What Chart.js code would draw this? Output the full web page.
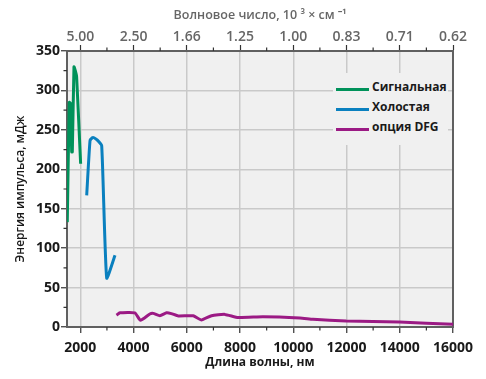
<!DOCTYPE html>
<html>
<head>
<meta charset="utf-8">
<script src="https://cdn.jsdelivr.net/npm/chart.js@4"></script>
<style>
  body { margin: 0; background: #fff; }
  #wrap { position: relative; width: 486px; height: 379px; }
  #legend {
    position: absolute; left: 333px; top: 73px; width: 115px; height: 72px;
    background: #f0f0f0; padding-top: 3px; box-sizing: border-box;
    font: bold 12px "Open Sans", sans-serif; color: #1a1a1a;
  }
  .row { display: flex; align-items: center; height: 20px; }
  .swatch { width: 33px; height: 3px; margin: 0 3px 0 3px; position: relative; top: 3px; }
</style>
</head>
<body>
<div id="wrap">
  <canvas id="chart" width="486" height="379"></canvas>
  <div id="legend"></div>
</div>
<script>
// Signal, idler and DFG pulse energy vs wavelength
const signalWl = [1510, 1586, 1637, 1676, 1700, 1762, 1812, 1862, 2012];
const signalEnergy = [133, 285, 283, 222, 222, 330, 325, 317, 207];

const idlerWl = [2240, 2364, 2450, 2514, 2640, 2803, 2991, 3303];
const idlerEnergy = [167, 236, 240, 240, 237, 230, 62, 91];

const dfgWl = [3360, 3490, 4050, 4260, 4610, 4740, 4990, 5240, 5420, 5680, 6240, 6550, 6930, 7430, 7930, 8860, 10250, 10740, 11990, 13990, 16000];
const dfgEnergy = [15, 18, 18, 8.5, 16.5, 17.3, 14.3, 18, 17, 14, 14.3, 9, 14.3, 16, 12, 13, 11.4, 9.8, 7.6, 6.3, 3.4];

const seriesNames = ['Сигнальная', 'Холостая', 'опция DFG'];
const seriesColors = ['#00925a', '#0a80bf', '#9b1a84'];

const xTickValues = [2000, 4000, 6000, 8000, 10000, 12000, 14000, 16000];
const xMinorTicks = [3000, 5000, 7000, 9000, 11000, 13000, 15000];
const topTickLabels = ['5.00', '2.50', '1.66', '1.25', '1.00', '0.83', '0.71', '0.62'];
const yMinorTicks = [25, 75, 125, 175, 225, 275, 325];

const FONT = '"Open Sans", sans-serif';
const AXIS = '#606060';
const GRID = '#c9c9c9';

function toPoints(xs, ys) {
    return xs.map((x, i) => ({ x: x, y: ys[i] }));
}

const plotBackground = {
    id: 'plotBackground',
    beforeDraw(chart) {
        const { ctx, chartArea: a } = chart;
        ctx.save();
        ctx.fillStyle = '#f0f0f0';
        ctx.fillRect(a.left, a.top, a.right - a.left, a.bottom - a.top);
        ctx.restore();
    }
};

// short unlabelled ticks between the major ones
const minorTicks = {
    id: 'minorTicks',
    afterDraw(chart) {
        const { ctx, chartArea: a, scales } = chart;
        ctx.save();
        ctx.strokeStyle = '#333';
        ctx.lineWidth = 1.2;
        ctx.beginPath();
        xMinorTicks.forEach(v => {
            const px = scales.x.getPixelForValue(v);
            ctx.moveTo(px, a.bottom); ctx.lineTo(px, a.bottom + 3.5);
            ctx.moveTo(px, a.top); ctx.lineTo(px, a.top - 3.5);
        });
        yMinorTicks.forEach(v => {
            const py = scales.y.getPixelForValue(v);
            ctx.moveTo(a.left, py); ctx.lineTo(a.left - 3.5, py);
        });
        ctx.stroke();
        ctx.restore();
    }
};

function fixSize(prop, size) {
    return function (s) {
        s[prop] = size;
        s.paddingLeft = 0; s.paddingRight = 0;
        s.paddingTop = 0; s.paddingBottom = 0;
    };
}

const ctx = document.getElementById('chart').getContext('2d');
new Chart(ctx, {
    type: 'line',
    data: {
        datasets: [
            { label: seriesNames[0], data: toPoints(signalWl, signalEnergy), borderColor: seriesColors[0] },
            { label: seriesNames[1], data: toPoints(idlerWl, idlerEnergy), borderColor: seriesColors[1] },
            { label: seriesNames[2], data: toPoints(dfgWl, dfgEnergy), borderColor: seriesColors[2] }
        ]
    },
    options: {
        responsive: false,
        animation: false,
        layout: { padding: 0 },
        elements: {
            line: { borderWidth: 3, tension: 0.15, fill: false },
            point: { radius: 0 }
        },
        plugins: {
            legend: { display: false },
            tooltip: { enabled: false }
        },
        scales: {
            x: {
                type: 'linear', position: 'bottom', min: 1500, max: 16000,
                afterBuildTicks: s => { s.ticks = xTickValues.map(v => ({ value: v })); },
                afterFit: fixSize('height', 52),
                ticks: { color: '#1a1a1a', font: { family: FONT, size: 14, weight: 'bold' }, padding: 7, maxRotation: 0,
                         callback: v => String(v) },
                grid: { color: GRID, lineWidth: 1.5, tickColor: '#333', tickLength: 6, tickWidth: 1.2 },
                border: { color: AXIS, width: 2 },
                title: { display: true, text: 'Длина волны, нм', color: '#1a1a1a',
                         font: { family: FONT, size: 12, weight: 'bold' }, padding: { top: 0, bottom: 9 } }
            },
            x2: {
                type: 'linear', position: 'top', min: 1500, max: 16000,
                afterBuildTicks: s => { s.ticks = xTickValues.map(v => ({ value: v })); },
                afterFit: fixSize('height', 51),
                ticks: { color: '#666', font: { family: FONT, size: 14, weight: '600' }, padding: 0, maxRotation: 0,
                         callback: (v, i) => topTickLabels[i] },
                grid: { drawOnChartArea: false, tickColor: '#333', tickLength: 6, tickWidth: 1.2 },
                border: { color: AXIS, width: 2 },
                title: { display: true, text: 'Волновое число, 10 ³ × см ⁻¹', color: '#666',
                         font: { family: FONT, size: 12.5, weight: '600' }, padding: { top: 8, bottom: 0 } }
            },
            y: {
                type: 'linear', position: 'left', min: 0, max: 350,
                afterFit: fixSize('width', 67),
                ticks: { stepSize: 50, color: '#1a1a1a', font: { family: FONT, size: 14, weight: 'bold' }, padding: 1 },
                grid: { color: GRID, lineWidth: 1.5, tickColor: '#333', tickLength: 6, tickWidth: 1.2 },
                border: { color: AXIS, width: 2 },
                title: { display: true, text: 'Энергия импульса, мДж', color: '#1a1a1a',
                         font: { family: FONT, size: 12, weight: '600' }, padding: { top: 13, bottom: 0 } }
            },
            y2: {
                type: 'linear', position: 'right', min: 0, max: 350,
                afterFit: fixSize('width', 33),
                ticks: { display: false },
                grid: { drawOnChartArea: false, drawTicks: false },
                border: { color: AXIS, width: 2 }
            }
        }
    },
    plugins: [plotBackground, minorTicks]
});

// legend drawn inside the plot, upper right
const legend = document.getElementById('legend');
seriesNames.forEach((name, i) => {
    const row = document.createElement('div');
    row.className = 'row';
    const sw = document.createElement('span');
    sw.className = 'swatch';
    sw.style.background = seriesColors[i];
    const txt = document.createElement('span');
    txt.textContent = name;
    row.appendChild(sw);
    row.appendChild(txt);
    legend.appendChild(row);
});
</script>
</body>
</html>
